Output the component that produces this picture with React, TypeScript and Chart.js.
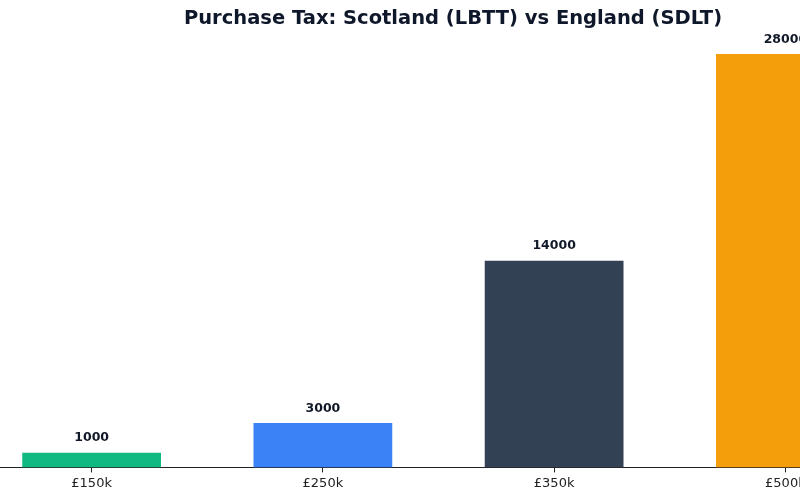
import React, { useEffect, useRef } from "react";
import { Chart, registerables } from "chart.js";

Chart.register(...registerables);

const categories = ["£150k", "£250k", "£350k", "£500k"];
const taxValues = [1000, 3000, 14000, 28000];
const barColors = ["#10b981", "#3b82f6", "#334155", "#f59e0b"];
const titleText = "Purchase Tax: Scotland (LBTT) vs England (SDLT)";

const valueLabels = {
  id: "valueLabels",
  afterDatasetsDraw(chart: any) {
    const ctx = chart.ctx;
    ctx.save();
    ctx.font = "bold 12.5px 'DejaVu Sans'";
    ctx.fillStyle = "#111827";
    ctx.textAlign = "center";
    ctx.textBaseline = "alphabetic";
    chart.data.datasets.forEach((ds: any, di: number) => {
      const meta = chart.getDatasetMeta(di);
      meta.data.forEach((el: any, i: number) => {
        ctx.fillText(String(ds.data[i]), el.x, el.y - 11.5);
      });
    });
    ctx.restore();
  },
};

export default function App() {
  const ref = useRef<HTMLCanvasElement>(null);
  useEffect(() => {
    if (!ref.current) return;
    Chart.defaults.font.family = "'DejaVu Sans'";
    const chart = new Chart(ref.current, {
      type: "bar",
      data: {
        labels: categories,
        datasets: [
          {
            data: taxValues,
            backgroundColor: barColors,
            borderWidth: 0,
            barPercentage: 0.6,
            categoryPercentage: 1,
          },
        ],
      },
      options: {
        animation: false,
        responsive: true,
        maintainAspectRatio: false,
        layout: { padding: { left: 0, right: 0, top: 0, bottom: 6 } },
        plugins: {
          legend: { display: false },
          tooltip: { enabled: false },
          title: {
            display: true,
            text: titleText,
            color: "#0f172a",
            font: { size: 19.5, weight: "bold", family: "'DejaVu Sans'" },
            padding: { top: 7, bottom: 3 },
          },
        },
        scales: {
          x: {
            grid: {
              display: true,
              offset: false,
              drawOnChartArea: false,
              drawTicks: true,
              tickLength: 5,
              color: "#222",
            },
            border: { display: true, color: "#222", width: 1 },
            ticks: {
              color: "#222",
              padding: 3,
              font: { size: 13, family: "'DejaVu Sans'" },
            },
          },
          y: {
            display: true,
            position: "right",
            min: 0,
            max: 29400,
            grid: { display: false },
            border: { display: false },
            ticks: { display: false },
            afterFit: (scale: any) => {
              scale.width = 29;
            },
          },
        },
      },
      plugins: [valueLabels],
    });
    return () => chart.destroy();
  }, []);
  return (
    <div style={{ position: "fixed", left: 0, top: 0, width: 800, height: 500, overflow: "hidden", background: "#fff" }}>
      <div style={{ position: "absolute", left: -24, top: 0, width: 954, height: 500 }}>
        <canvas ref={ref} />
      </div>
    </div>
  );
}
